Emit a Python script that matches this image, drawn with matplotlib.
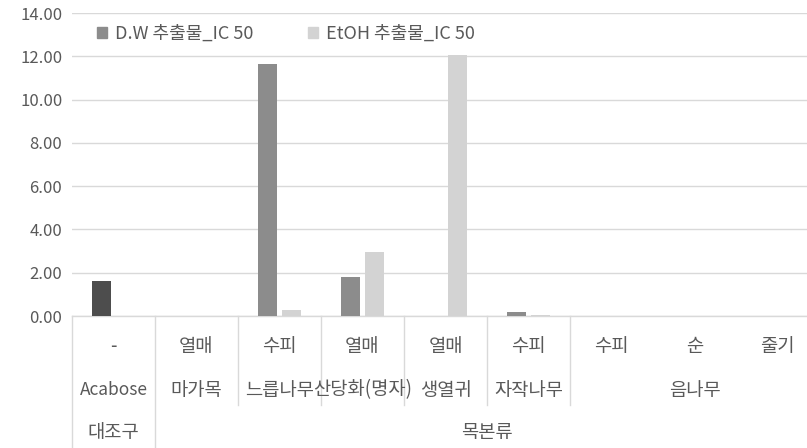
import matplotlib
matplotlib.use("Agg")
import matplotlib.pyplot as plt
from matplotlib.patches import Patch
import numpy as np

plt.rcParams['font.family'] = ['Noto Sans CJK KR', 'DejaVu Sans']

# Category levels (innermost first)
parts = ['-', '열매', '수피', '열매', '열매', '수피', '수피', '순', '줄기']
species = ['Acabose', '마가목', '느릅나무', '산당화(명자)', '생열귀', '자작나무', '음나무']
species_span = [(0, 0), (1, 1), (2, 2), (3, 3), (4, 4), (5, 5), (6, 8)]
groups = ['대조구', '목본류']
group_span = [(0, 0), (1, 8)]

# IC50 values per category
dw_values = [1.62, 0, 11.63, 1.79, 0, 0.17, 0, 0, 0]
etoh_values = [0, 0, 0.29, 2.97, 12.07, 0.06, 0, 0, 0]
series_names = ['D.W 추출물_IC 50', 'EtOH 추출물_IC 50']
y_ticks = [0, 2, 4, 6, 8, 10, 12, 14]

TEXT = '#595959'
GRID = '#d9d9d9'
DW_C = '#8c8c8c'
ET_C = '#d3d3d3'
CTRL_C = '#4d4d4d'

W, H = 807, 448
fig = plt.figure(figsize=(W / 100, H / 100), dpi=100)
left, right, top, bottom = 72, 819, 13, 316
ax = fig.add_axes([left / W, 1 - bottom / H, (right - left) / W, (bottom - top) / H])
ax_h = bottom - top

x = np.arange(len(parts))
bw = 0.23
off = 0.147
dw_colors = [CTRL_C if s == 'Acabose' else DW_C for s in
             [species[i] for i, (a, b) in enumerate(species_span) for _ in range(b - a + 1)]]
ax.bar(x - off, dw_values, width=bw, color=dw_colors, linewidth=0, zorder=3)
ax.bar(x + off, etoh_values, width=bw, color=ET_C, linewidth=0, zorder=3)

ax.set_xlim(-0.5, len(parts) - 0.5)
ax.set_ylim(0, 14)
ax.set_yticks(y_ticks)
ax.set_yticklabels([f'{v:.2f}' for v in y_ticks])
ax.tick_params(axis='y', length=0, pad=7, labelsize=12, labelcolor=TEXT)
ax.set_xticks([])
ax.grid(axis='y', color=GRID, linewidth=1, zorder=0)
for s in ['top', 'right', 'left']:
    ax.spines[s].set_visible(False)
ax.spines['bottom'].set_color(GRID)
ax.spines['bottom'].set_linewidth(1)

tr = ax.get_xaxis_transform()


def fy(px):
    return -(px - bottom) / ax_h


LBL = 13.5
# Multi-level category labels
for i, p in enumerate(parts):
    ax.text(i, fy(346), p, transform=tr, ha='center', va='center',
            fontsize=LBL, color=TEXT)
for name, (a, b) in zip(species, species_span):
    ax.text((a + b) / 2, fy(390), name, transform=tr, ha='center', va='center',
            fontsize=LBL if name != 'Acabose' else 12.5, color=TEXT)
for name, (a, b) in zip(groups, group_span):
    ax.text((a + b) / 2, fy(432), name, transform=tr, ha='center', va='center',
            fontsize=LBL, color=TEXT)

# Separator lines between category groups
group_edges = sorted({a - 0.5 for a, b in group_span} | {group_span[-1][1] + 0.5})
species_edges = sorted({a - 0.5 for a, b in species_span} - set(group_edges))
for e in group_edges:
    ax.plot([e, e], [0, fy(H)], transform=tr, color=GRID, lw=1, clip_on=False)
for e in species_edges:
    ax.plot([e, e], [0, fy(405)], transform=tr, color=GRID, lw=1, clip_on=False)

handles = [Patch(color=DW_C), Patch(color=ET_C)]
leg = ax.legend(handles, series_names, ncol=2, frameon=False,
                loc='center left', bbox_to_anchor=(97 / W, 1 - 34 / H),
                bbox_transform=fig.transFigure, fontsize=13,
                handlelength=0.55, handleheight=0.55, handletextpad=0.45,
                columnspacing=3.0, borderpad=0, borderaxespad=0)
for t in leg.get_texts():
    t.set_color(TEXT)

fig.savefig('out.png', dpi=100)
